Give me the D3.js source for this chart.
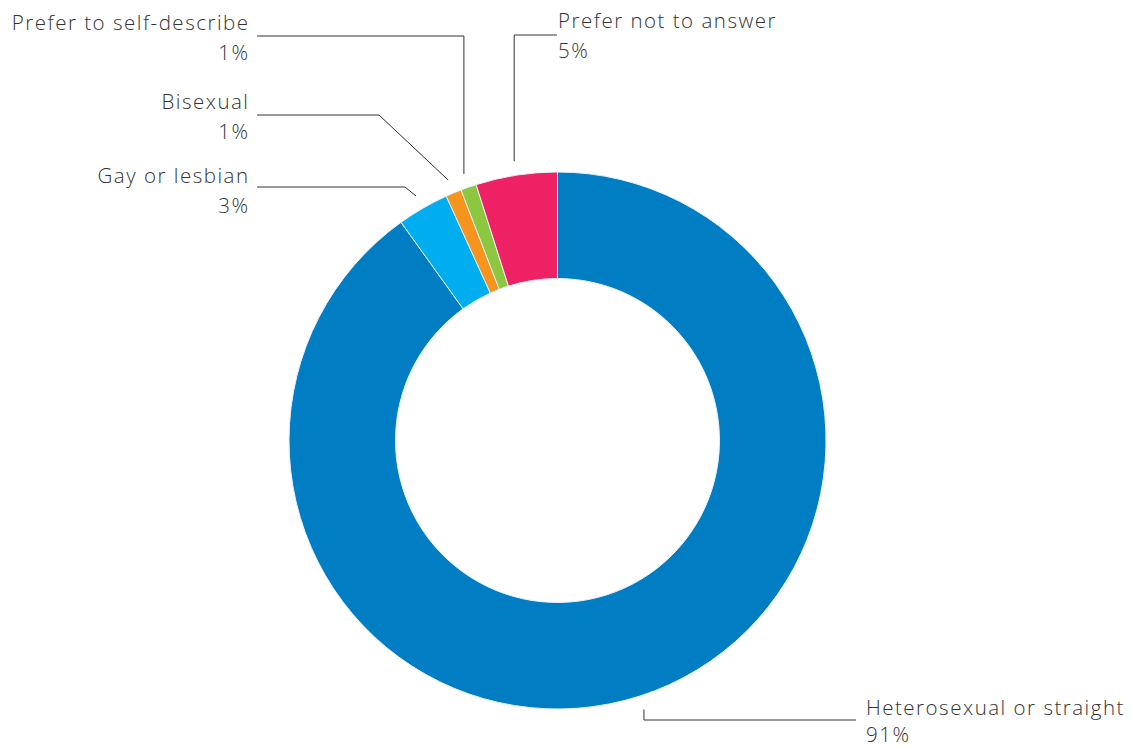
<!DOCTYPE html>
<html lang="en">
<head>
<meta charset="utf-8">
<title>Sexual orientation</title>
<style>
body { margin:0; background:#fff; }
text { font-family:"Open Sans","Roboto",sans-serif; }
</style>
<script src="https://cdnjs.cloudflare.com/ajax/libs/d3/7.8.5/d3.min.js"></script>
</head>
<body>
<script>
// slices, clockwise from 12 o'clock
var categories = ["Heterosexual or straight", "Gay or lesbian", "Bisexual", "Prefer to self-describe", "Prefer not to answer"];
var values = [90.1, 3.1, 0.95, 0.95, 4.9];
var pctLabels = ["91%", "3%", "1%", "1%", "5%"];
var colors = ["#007dc3", "#00aeef", "#f7941d", "#8dc63f", "#ed2163"];

// label layout: anchor of the text block, where the leader line elbows, and where it stops
var labelLayout = [
	{ x: 866, y: 715, anchor: "start", mode: "down", lineY: 720, lineEnd: 856 },
	{ x: 249.5, y: 183, anchor: "end", mode: "diag", elbowX: 405, lineY: 187, lineEnd: 257 },
	{ x: 249.5, y: 109, anchor: "end", mode: "diag", elbowX: 379, lineY: 115, lineEnd: 257 },
	{ x: 249.5, y: 30, anchor: "end", mode: "up", lineY: 36, lineEnd: 257 },
	{ x: 558, y: 28, anchor: "start", mode: "up", lineY: 35, lineEnd: 557 }
];

var width = 1132, height = 747;
var cx = 557.5, cy = 440.5, outerR = 268.5, innerR = 162;

var svg = d3.select("body").append("svg")
	.attr("width", width)
	.attr("height", height);

var pie = d3.pie().sort(null).value(function(d) { return d; });
var arcs = pie(values);

var arc = d3.arc().innerRadius(innerR).outerRadius(outerR);

var g = svg.append("g").attr("transform", "translate(" + cx + "," + cy + ")");

g.selectAll("path")
	.data(arcs)
	.enter()
	.append("path")
		.attr("d", arc)
		.style("fill", function(d, i) { return colors[i]; })
		.style("stroke", "#e4f1f9")
		.style("stroke-width", "1px");

// leader lines
var lineR = outerR + 14;
arcs.forEach(function(d, i) {
	var a = (d.startAngle + d.endAngle) / 2;
	var ex = cx + lineR * Math.sin(a),
		ey = cy - lineR * Math.cos(a);
	var L = labelLayout[i], pts;
	if (L.mode === "diag") {
		pts = [[ex, ey], [L.elbowX, L.lineY], [L.lineEnd, L.lineY]];
	} else {
		pts = [[ex, ey], [ex, L.lineY], [L.lineEnd, L.lineY]];
	}
	svg.append("path")
		.attr("d", d3.line()(pts))
		.style("fill", "none")
		.style("stroke", "#333")
		.style("stroke-width", "1px");
});

// labels
var lab = svg.selectAll("text.lab")
	.data(categories)
	.enter()
	.append("text")
		.attr("class", "lab")
		.attr("text-anchor", function(d, i) { return labelLayout[i].anchor; })
		.style("font-size", "20.5px")
		.style("font-weight", "300")
		.style("letter-spacing", "1.5px")
		.style("fill", "#333");

lab.append("tspan")
	.attr("x", function(d, i) { return labelLayout[i].x; })
	.attr("y", function(d, i) { return labelLayout[i].y; })
	.text(function(d) { return d; });

lab.append("tspan")
	.attr("x", function(d, i) { return labelLayout[i].x; })
	.attr("y", function(d, i) { return Math.min(labelLayout[i].y + 30, 742); })
	.text(function(d, i) { return pctLabels[i]; });
</script>
</body>
</html>
